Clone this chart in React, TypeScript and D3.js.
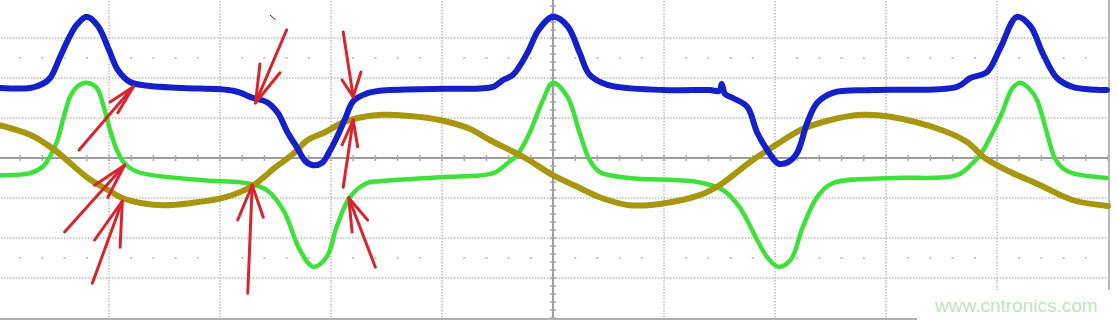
import React from "react";
import * as d3 from "d3";

// Time in divisions (0..10), amplitude in divisions (-4..4)
const blueTrace: [number, number][] = [
  [0.02, 1.75], [0.29, 1.75], [0.4, 1.85], [0.47, 2.0], [0.56, 2.53], [0.63, 2.95], [0.71, 3.33],
  [0.8, 3.53], [0.9, 3.3], [1.0, 2.7], [1.08, 2.2], [1.19, 1.9], [1.37, 1.8], [1.67, 1.75],
  [2.12, 1.68], [2.3, 1.5], [2.42, 1.4], [2.52, 1.13], [2.61, 0.63], [2.69, 0.28], [2.77, -0.08],
  [2.84, -0.18], [2.92, -0.12], [2.98, 0.13], [3.05, 0.5], [3.13, 1.0], [3.2, 1.42], [3.31, 1.6],
  [3.44, 1.68], [4.01, 1.73], [4.46, 1.78], [4.55, 1.95], [4.64, 2.08], [4.77, 2.63], [4.87, 3.2],
  [5.0, 3.53], [5.13, 3.3], [5.24, 2.63], [5.33, 2.08], [5.49, 1.83], [5.99, 1.7], [6.41, 1.7],
  [6.5, 1.68], [6.52, 1.85], [6.55, 1.6], [6.62, 1.5], [6.75, 1.28], [6.84, 0.63], [6.93, 0.2],
  [7.03, -0.14], [7.12, -0.1], [7.2, 0.13], [7.29, 0.88], [7.38, 1.38], [7.52, 1.63], [7.88, 1.7],
  [8.64, 1.78], [8.76, 2.0], [8.91, 2.15], [9.03, 2.75], [9.18, 3.53], [9.3, 3.3], [9.41, 2.63],
  [9.54, 2.0], [9.68, 1.78], [9.99, 1.7],
];

const greenTrace: [number, number][] = [
  [0.02, -0.43], [0.29, -0.38], [0.41, -0.2], [0.47, 0.05], [0.53, 0.4], [0.59, 1.0], [0.65, 1.53],
  [0.72, 1.8], [0.8, 1.88], [0.89, 1.75], [0.95, 1.3], [1.01, 0.7], [1.07, 0.2], [1.14, -0.13],
  [1.26, -0.35], [1.82, -0.55], [2.24, -0.63], [2.42, -0.8], [2.57, -1.3], [2.72, -2.3], [2.84, -2.72],
  [2.96, -2.48], [3.05, -1.73], [3.17, -0.98], [3.32, -0.63], [3.44, -0.58], [3.98, -0.48],
  [4.46, -0.38], [4.59, -0.13], [4.68, 0.08], [4.79, 0.63], [4.91, 1.45], [5.0, 1.88], [5.13, 1.53],
  [5.24, 0.63], [5.33, -0.05], [5.42, -0.35], [5.69, -0.5], [6.3, -0.6], [6.53, -0.8], [6.68, -1.23],
  [6.84, -2.05], [6.93, -2.48], [7.03, -2.72], [7.14, -2.55], [7.25, -1.73], [7.38, -0.98],
  [7.52, -0.63], [8.05, -0.5], [8.64, -0.43], [8.78, -0.13], [8.85, 0.08], [9.03, 1.03], [9.14, 1.75],
  [9.21, 1.88], [9.3, 1.7], [9.36, 1.45], [9.45, 0.63], [9.52, 0.0], [9.59, -0.25], [9.68, -0.38],
  [9.99, -0.5],
];

const oliveTrace: [number, number][] = [
  [0.0, 0.83], [0.29, 0.58], [0.51, 0.2], [0.81, -0.5], [0.99, -0.8], [1.12, -1.0], [1.3, -1.13],
  [1.5, -1.18], [1.73, -1.13], [2.05, -0.98], [2.29, -0.7], [2.5, -0.23], [2.65, 0.08], [2.79, 0.45],
  [2.95, 0.65], [3.1, 0.88], [3.24, 1.0], [3.46, 1.08], [3.71, 1.05], [3.98, 0.95], [4.25, 0.73],
  [4.43, 0.45], [4.75, 0.0], [5.0, -0.43], [5.24, -0.75], [5.42, -0.98], [5.69, -1.18], [5.96, -1.15],
  [6.32, -0.93], [6.5, -0.68], [6.8, -0.05], [7.05, 0.4], [7.23, 0.7], [7.5, 0.95], [7.78, 1.08],
  [8.04, 1.03], [8.5, 0.7], [8.73, 0.4], [8.89, 0.0], [9.12, -0.35], [9.39, -0.68], [9.68, -1.05],
  [10.0, -1.2],
];

// annotation arrows: tail, tip, barb1, barb2 (in divisions)
const arrows: [number, number][][] = [
  [[0.73, 0.2], [1.22, 1.78], [1.01, 1.4], [1.08, 1.13]],
  [[0.6, -1.85], [1.14, -0.18], [0.87, -0.68], [0.99, -0.98]],
  [[0.85, -3.13], [1.12, -1.08], [0.87, -2.05], [1.1, -2.23]],
  [[2.6, 3.2], [2.32, 1.38], [2.36, 2.35], [2.54, 2.13]],
  [[3.11, 3.15], [3.2, 1.53], [3.1, 1.95], [3.27, 2.15]],
  [[2.25, -3.38], [2.29, -0.68], [2.16, -1.55], [2.39, -1.48]],
  [[3.11, -0.73], [3.2, 0.95], [3.1, 0.33], [3.24, 0.28]],
  [[3.4, -2.73], [3.16, -1.0], [3.19, -1.85], [3.33, -1.55]],
];

const strayMark: [number, number][] = [[2.45, 3.58], [2.5, 3.45]];

const gridX = [1, 2, 3, 4, 6, 7, 8, 9];
const gridY = [-3, -2, -1, 1, 2, 3];
const watermark = "www.cntronics.com";

const W = 1118;
const H = 321;

export default function App() {
  const x = d3.scaleLinear().domain([0, 10]).range([-2, 1108]);
  const y = d3.scaleLinear().domain([-4, 4]).range([318, -2]);
  const line = d3
    .line<[number, number]>()
    .x((d) => x(d[0]))
    .y((d) => y(d[1]))
    .curve(d3.curveCatmullRom.alpha(0.5));

  const minor = d3.range(0, 10.001, 0.2);
  const minorY = d3.range(-4, 4.001, 0.2);

  return (
    <svg
      width={W}
      height={H}
      style={{ position: "absolute", left: 0, top: 0, background: "#fff", display: "block" }}
    >
      <rect x={0} y={0} width={W} height={H} fill="#fff" />
      {gridX.map((g) => (
        <line key={"gx" + g} x1={x(g)} x2={x(g)} y1={y(4)} y2={y(-4)} stroke="#bcbcbc" strokeWidth={1.5} strokeDasharray="1.5,1.5" />
      ))}
      {gridY.map((g) => (
        <line key={"gy" + g} x1={x(0)} x2={x(10)} y1={y(g)} y2={y(g)} stroke="#bcbcbc" strokeWidth={1.5} strokeDasharray="1.5,1.5" />
      ))}
      {[2.5, -2.5].map((r) =>
        minor
          .filter((m) => Math.abs(m - Math.round(m)) > 0.01)
          .map((m) => (
            <rect key={"d" + r + m} x={x(m) - 1} y={y(r) - 1} width={2} height={2} fill="#c4c4c4" />
          ))
      )}
      <line x1={x(0)} x2={x(10)} y1={y(0)} y2={y(0)} stroke="#9c9c9c" strokeWidth={2} />
      <line x1={x(5)} x2={x(5)} y1={y(4)} y2={y(-4)} stroke="#9c9c9c" strokeWidth={2} />
      {minor.map((m) => (
        <line key={"tx" + m} x1={x(m)} x2={x(m)} y1={y(0) - 3} y2={y(0) + 3} stroke="#a8a8a8" strokeWidth={1.5} />
      ))}
      {minorY.map((m) => (
        <line key={"ty" + m} x1={x(5) - 3} x2={x(5) + 3} y1={y(m)} y2={y(m)} stroke="#a8a8a8" strokeWidth={1.5} />
      ))}
      <line x1={0} x2={x(10)} y1={y(-4) + 1} y2={y(-4) + 1} stroke="#b0b0b0" strokeWidth={2} />
      <line x1={x(10) + 1} x2={x(10) + 1} y1={0} y2={y(-4) + 2} stroke="#b8b8b8" strokeWidth={2} />

      <path d={line(greenTrace) || ""} fill="none" stroke="#3ee03a" strokeWidth={4.5} strokeLinejoin="round" strokeLinecap="round" />
      <path d={line(oliveTrace) || ""} fill="none" stroke="#a8960e" strokeWidth={6} strokeLinejoin="round" strokeLinecap="round" />
      <path d={line(blueTrace) || ""} fill="none" stroke="#1420c8" strokeWidth={6} strokeLinejoin="round" strokeLinecap="round" />

      {arrows.map((a, i) => (
        <g key={"a" + i} stroke="#d8242c" strokeWidth={3} strokeLinecap="round" fill="none">
          <line x1={x(a[0][0])} y1={y(a[0][1])} x2={x(a[1][0])} y2={y(a[1][1])} />
          <line x1={x(a[1][0])} y1={y(a[1][1])} x2={x(a[2][0])} y2={y(a[2][1])} />
          <line x1={x(a[1][0])} y1={y(a[1][1])} x2={x(a[3][0])} y2={y(a[3][1])} />
        </g>
      ))}
      <line x1={x(strayMark[0][0])} y1={y(strayMark[0][1])} x2={x(strayMark[1][0])} y2={y(strayMark[1][1])} stroke="#222" strokeWidth={1} />

      <rect x={917} y={290} width={W - 917} height={H - 290} fill="#fff" />
      <text x={935} y={312} fontFamily="Liberation Sans, Arial, sans-serif" fontSize={19} fill="#c2e4ba">
        {watermark}
      </text>
    </svg>
  );
}
